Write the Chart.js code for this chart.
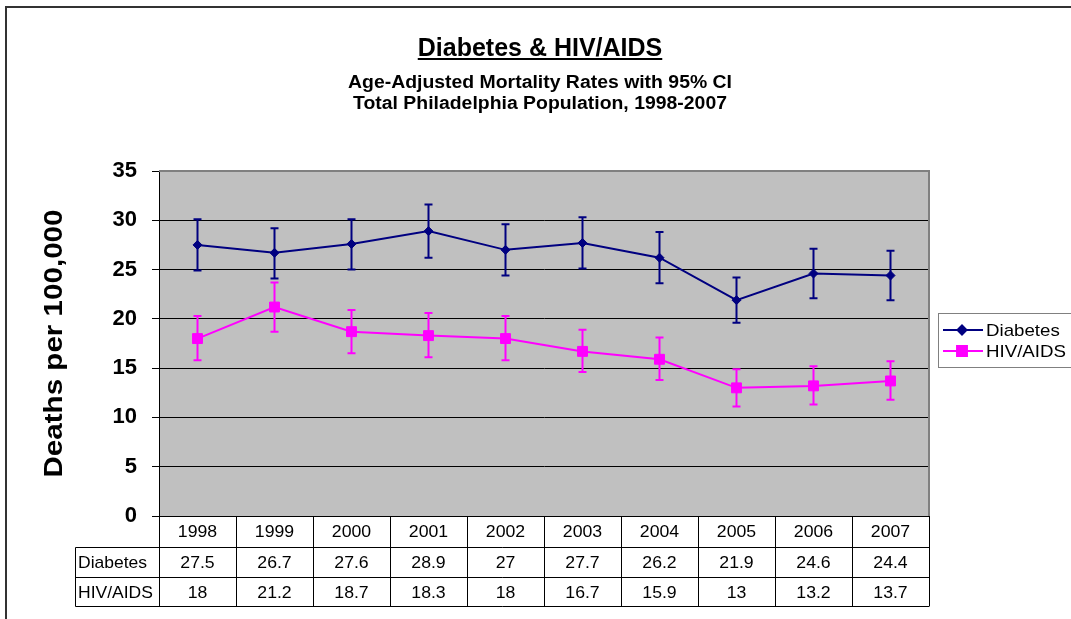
<!DOCTYPE html>
<html>
<head>
<meta charset="utf-8">
<script src="https://cdn.jsdelivr.net/npm/chart.js@4.4.1/dist/chart.umd.min.js"></script>
<style>
  html, body { margin: 0; padding: 0; background: #fff; }
  #wrap { width: 1071px; height: 619px; position: relative; }
</style>
</head>
<body>
<div id="wrap"><canvas id="chart" width="1071" height="619"></canvas></div>
<script>
// chart values
const years = ['1998', '1999', '2000', '2001', '2002', '2003', '2004', '2005', '2006', '2007'];
const diabetes = [27.5, 26.7, 27.6, 28.9, 27, 27.7, 26.2, 21.9, 24.6, 24.4];
const diabetesLow = [24.9, 24.1, 25.0, 26.2, 24.4, 25.1, 23.6, 19.6, 22.1, 21.9];
const diabetesHigh = [30.1, 29.2, 30.1, 31.6, 29.6, 30.3, 28.8, 24.2, 27.1, 26.9];
const hiv = [18, 21.2, 18.7, 18.3, 18, 16.7, 15.9, 13, 13.2, 13.7];
const hivLow = [15.8, 18.7, 16.5, 16.1, 15.8, 14.6, 13.8, 11.1, 11.3, 11.8];
const hivHigh = [20.3, 23.7, 20.9, 20.6, 20.3, 18.9, 18.1, 14.9, 15.2, 15.7];
const yTicks = [0, 5, 10, 15, 20, 25, 30, 35];

const FONT = "'Liberation Sans', Arial, sans-serif";
const NAVY = '#000080';
const MAGENTA = '#FF00FF';

const errorBars = [
  { low: diabetesLow, high: diabetesHigh },
  { low: hivLow, high: hivHigh }
];

// the Excel fonts run a little wider than Liberation Sans, so stretch text sideways
function wideText(ctx, text, x, y, sx) {
  ctx.save();
  ctx.translate(x, y);
  ctx.scale(sx, 1);
  ctx.fillText(text, 0, 0);
  ctx.restore();
}

// grey plot background + border
const plotArea = {
  id: 'plotArea',
  beforeDraw(chart) {
    const { ctx, chartArea: a } = chart;
    ctx.save();
    ctx.fillStyle = '#fff';
    ctx.fillRect(0, 0, chart.width, chart.height);
    // outer frame
    ctx.strokeStyle = '#333';
    ctx.lineWidth = 2;
    ctx.beginPath();
    ctx.moveTo(6, chart.height);
    ctx.lineTo(6, 7);
    ctx.lineTo(chart.width, 7);
    ctx.stroke();
    ctx.fillStyle = '#C0C0C0';
    ctx.fillRect(a.left, a.top, a.right - a.left, a.bottom - a.top);
    ctx.restore();
  },
  afterDraw(chart) {
    const { ctx, chartArea: a } = chart;
    ctx.save();
    ctx.strokeStyle = '#808080';
    ctx.lineWidth = 2;
    ctx.beginPath();
    ctx.moveTo(a.left, a.top);
    ctx.lineTo(a.right, a.top);
    ctx.lineTo(a.right, a.bottom);
    ctx.stroke();
    ctx.restore();
  }
};

// 95% CI whiskers, drawn under each series' line and markers
const ciBars = {
  id: 'ciBars',
  beforeDatasetDraw(chart, args) {
    const bars = errorBars[args.index];
    if (!bars) return;
    const { ctx, scales: { x, y } } = chart;
    const color = chart.data.datasets[args.index].borderColor;
    ctx.save();
    ctx.strokeStyle = color;
    ctx.lineWidth = 2;
    years.forEach((yr, i) => {
      const px = x.getPixelForValue(i);
      const top = y.getPixelForValue(bars.high[i]);
      const bot = y.getPixelForValue(bars.low[i]);
      ctx.beginPath();
      ctx.moveTo(px, top);
      ctx.lineTo(px, bot);
      ctx.moveTo(px - 4, top);
      ctx.lineTo(px + 4, top);
      ctx.moveTo(px - 4, bot);
      ctx.lineTo(px + 4, bot);
      ctx.stroke();
    });
    ctx.restore();
  }
};

// titles, axis title, legend and data table
const extras = {
  id: 'extras',
  afterDraw(chart) {
    const { ctx, chartArea: a, scales: { x } } = chart;
    ctx.save();
    ctx.fillStyle = '#000';
    ctx.textAlign = 'center';
    ctx.textBaseline = 'alphabetic';

    // title
    ctx.font = 'bold 25px ' + FONT;
    const t = 'Diabetes & HIV/AIDS';
    ctx.fillText(t, 540, 56);
    const tw = ctx.measureText(t).width;
    ctx.fillRect(540 - tw / 2, 58, tw, 2);
    ctx.font = 'bold 18px ' + FONT;
    const sub1 = 'Age-Adjusted Mortality Rates with 95% CI';
    const subScale = 384 / ctx.measureText(sub1).width;
    wideText(ctx, sub1, 540, 88, subScale);
    wideText(ctx, 'Total Philadelphia Population, 1998-2007', 540, 109, subScale);

    // y axis title
    ctx.save();
    ctx.translate(62, (a.top + a.bottom) / 2);
    ctx.rotate(-Math.PI / 2);
    ctx.font = 'bold 25px ' + FONT;
    const yt = 'Deaths per 100,000';
    const sx = 268 / ctx.measureText(yt).width;
    ctx.scale(sx, 1);
    ctx.fillText(yt, 0, 0);
    ctx.restore();

    // legend
    ctx.strokeStyle = '#808080';
    ctx.lineWidth = 1;
    ctx.strokeRect(938.5, 313.5, 140, 54);
    const items = chart.data.datasets;
    items.forEach((ds, k) => {
      const ly = 330 + k * 21;
      ctx.strokeStyle = ds.borderColor;
      ctx.lineWidth = 2;
      ctx.beginPath();
      ctx.moveTo(943, ly);
      ctx.lineTo(983, ly);
      ctx.stroke();
      ctx.fillStyle = ds.borderColor;
      Chart.helpers.drawPoint(ctx, {
        pointStyle: ds.pointStyle, radius: ds.pointRadius, rotation: 0, borderWidth: 1
      }, 962, ly);
      ctx.fillStyle = '#000';
      ctx.textAlign = 'left';
      ctx.textBaseline = 'middle';
      ctx.font = '17px ' + FONT;
      wideText(ctx, ds.label, 986, ly + 1, 1.1);
    });

    // data table
    const step = x.getPixelForValue(1) - x.getPixelForValue(0);
    const rows = [a.bottom, 547.5, 577.5, 606.5];
    const labelLeft = 75.5;
    ctx.strokeStyle = '#000';
    ctx.lineWidth = 1;
    ctx.beginPath();
    for (let r = 1; r < rows.length; r++) {
      ctx.moveTo(labelLeft, rows[r]);
      ctx.lineTo(a.right, rows[r]);
    }
    ctx.moveTo(labelLeft, rows[1]);
    ctx.lineTo(labelLeft, rows[3]);
    for (let i = 0; i <= years.length; i++) {
      const bx = Math.round(x.getPixelForValue(0) - step / 2 + i * step) + 0.5;
      ctx.moveTo(bx, rows[0]);
      ctx.lineTo(bx, rows[3]);
    }
    ctx.stroke();

    ctx.font = '17px ' + FONT;
    ctx.textBaseline = 'middle';
    const rowData = [years, diabetes, hiv];
    rowData.forEach((vals, r) => {
      const cy = (rows[r] + rows[r + 1]) / 2 + 1;
      ctx.textAlign = 'center';
      vals.forEach((v, i) => wideText(ctx, String(v), x.getPixelForValue(i), cy, 1.04));
      if (r > 0) {
        ctx.textAlign = 'left';
        wideText(ctx, items[r - 1].label, 78, cy, 1.03);
      }
    });
    ctx.restore();
  }
};

new Chart(document.getElementById('chart'), {
  type: 'line',
  data: {
    labels: years,
    datasets: [
      {
        label: 'Diabetes',
        data: diabetes,
        borderColor: NAVY,
        backgroundColor: NAVY,
        borderWidth: 2,
        pointStyle: 'rectRot',
        pointRadius: 4.5,
        pointBorderWidth: 1,
        tension: 0
      },
      {
        label: 'HIV/AIDS',
        data: hiv,
        borderColor: MAGENTA,
        backgroundColor: MAGENTA,
        borderWidth: 2,
        pointStyle: 'rect',
        pointRadius: 7,
        pointBorderWidth: 1,
        tension: 0
      }
    ]
  },
  options: {
    responsive: false,
    animation: false,
    layout: { padding: { top: 171, right: 142, left: 0, bottom: 0 } },
    plugins: {
      legend: { display: false },
      title: { display: false },
      tooltip: { enabled: false }
    },
    scales: {
      x: {
        offset: true,
        ticks: { display: false },
        grid: { display: false },
        border: { display: false },
        afterFit(s) { s.height = 103; }
      },
      y: {
        min: 0,
        max: 35,
        afterBuildTicks(s) { s.ticks = yTicks.map(v => ({ value: v })); },
        ticks: {
          color: '#000',
          padding: 15,
          font: { family: FONT, size: 22, weight: 'bold' }
        },
        grid: {
          color: c => (c.tick && c.tick.value === 35 ? '#808080' : '#000'),
          tickColor: '#000',
          tickLength: 7,
          lineWidth: 1
        },
        border: { color: '#000', width: 1 },
        afterFit(s) { s.width = 159; }
      }
    }
  },
  plugins: [plotArea, ciBars, extras]
});
</script>
</body>
</html>
